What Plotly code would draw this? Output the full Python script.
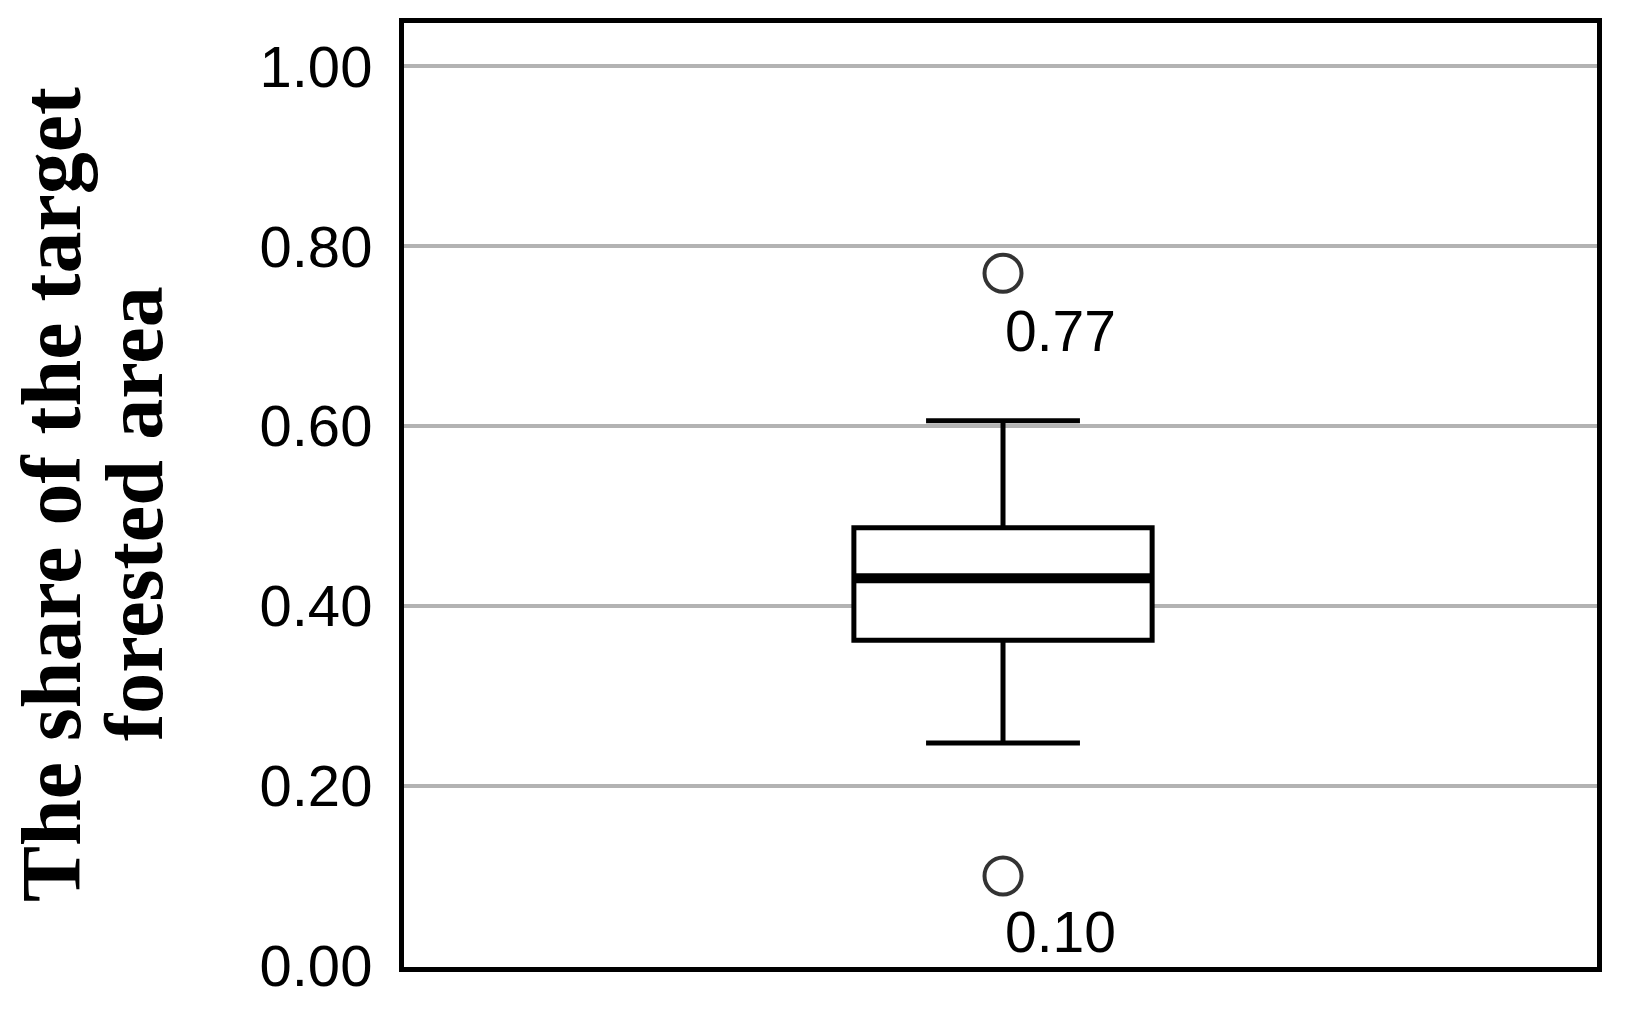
import plotly.graph_objects as go

# ---- data ----
stat_q1 = [0.362]
stat_median = [0.431]
stat_q3 = [0.487]
stat_lower = [0.248]
stat_upper = [0.606]
outlier_values = [0.77, 0.10]
outlier_labels = ["0.77", "0.10"]
tick_values = [0.0, 0.2, 0.4, 0.6, 0.8, 1.0]
tick_labels = ["0.00", "0.20", "0.40", "0.60", "0.80", "1.00"]
title_lines = ["The share of the target", "forested area"]

# ---- styles ----
BOX_W = 0.5
LABEL_YSHIFT = [-58, -56]
TITLE_POS = [(-353, 0), (-270, -19)]
TITLE_SIZE = [84, 82]
TICK_FONT = "Liberation Sans, Arial, sans-serif"
TITLE_FONT = "Liberation Serif, Times New Roman, serif"

fig = go.Figure()

fig.add_trace(go.Box(
    x=[0], q1=stat_q1, median=stat_median, q3=stat_q3,
    lowerfence=stat_lower, upperfence=stat_upper,
    width=BOX_W, whiskerwidth=0.516,
    fillcolor="white", line=dict(color="black", width=5),
    boxpoints=False, showlegend=False, hoverinfo="skip",
))

# thick median line
fig.add_trace(go.Scatter(
    x=[-BOX_W / 2, BOX_W / 2], y=[stat_median[0], stat_median[0]],
    mode="lines", line=dict(color="black", width=10),
    showlegend=False, hoverinfo="skip",
))

# outliers
fig.add_trace(go.Scatter(
    x=[0] * len(outlier_values), y=outlier_values, mode="markers",
    marker=dict(symbol="circle-open", size=37, color="#333333",
                line=dict(width=4, color="#333333")),
    showlegend=False, hoverinfo="skip",
))

for v, lab, ys in zip(outlier_values, outlier_labels, LABEL_YSHIFT):
    fig.add_annotation(x=0, y=v, text=lab, showarrow=False,
                       xanchor="left", yanchor="middle", xshift=0, yshift=ys,
                       font=dict(family=TICK_FONT, size=57, color="black"))

# y-axis title lines
for txt, (xs, ys), sz in zip(title_lines, TITLE_POS, TITLE_SIZE):
    fig.add_annotation(xref="paper", yref="paper", x=0, y=0.5, text="<b>" + txt + "</b>",
                       showarrow=False, textangle=-90, xanchor="center", yanchor="middle",
                       xshift=xs, yshift=ys,
                       font=dict(family=TITLE_FONT, size=sz, color="black"))

fig.update_layout(
    width=1628, height=1013,
    margin=dict(l=404, r=31, t=23, b=46),
    paper_bgcolor="white", plot_bgcolor="white",
    xaxis=dict(range=[-1.0042, 0.9958], showticklabels=False, showgrid=False, zeroline=False,
               showline=True, mirror=True, linewidth=5, linecolor="black", ticks=""),
    yaxis=dict(range=[-0.0011, 1.0481], tickvals=tick_values, ticktext=tick_labels,
               showgrid=True, gridcolor="#b3b3b3", gridwidth=4, zeroline=False,
               showline=True, mirror=True, linewidth=5, linecolor="black", ticks="",
               ticklabelstandoff=15,
               tickfont=dict(family=TICK_FONT, size=58, color="black")),
)

fig.write_html("out.html", config={"displayModeBar": False},
               post_script="document.body.style.margin='0';document.body.style.overflow='hidden';")
